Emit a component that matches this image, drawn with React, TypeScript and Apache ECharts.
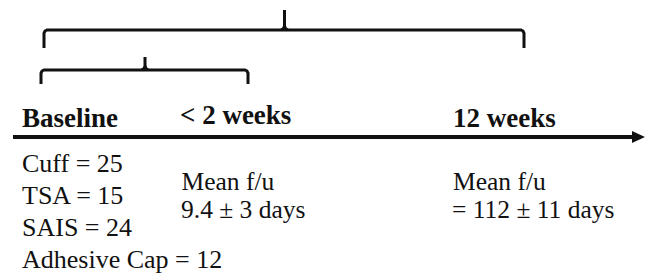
import React, { useEffect, useRef } from "react";
import * as echarts from "echarts";

// Timeline milestones (bold headers)
const milestones = ["Baseline", "< 2 weeks", "12 weeks"];
// Baseline cohort
const groupNames = ["Cuff", "TSA", "SAIS", "Adhesive Cap"];
const groupCounts = [25, 15, 24, 12];
// Follow-up (days)
const followUpMeans = [9.4, 112];
const followUpSDs = [3, 11];

const SERIF = "'Liberation Serif', 'Times New Roman', serif";
const INK = "#111";

export default function App() {
  const ref = useRef<HTMLDivElement>(null);
  useEffect(() => {
    if (!ref.current) return;
    const chart = echarts.init(ref.current, undefined, { renderer: "svg" });

    const lw = 3;
    const brace = (x1: number, x2: number, xm: number, yBar: number, yEnd: number, yTip: number) => [
      {
        type: "polyline",
        shape: {
          points: [
            [x1, yEnd], [x1, yBar + 3], [x1 + 1, yBar + 1], [x1 + 3, yBar],
            [x2 - 3, yBar], [x2 - 1, yBar + 1], [x2, yBar + 3], [x2, yEnd],
          ],
        },
        style: { stroke: INK, lineWidth: lw, fill: null },
      },
      {
        type: "polyline",
        shape: { points: [[xm - 3, yBar], [xm - 1, yBar - 1.5], [xm, yBar - 4], [xm, yTip]] },
        style: { stroke: INK, lineWidth: lw, fill: null },
      },
      {
        type: "polyline",
        shape: { points: [[xm + 3, yBar], [xm + 1, yBar - 1.5], [xm, yBar - 4]] },
        style: { stroke: INK, lineWidth: lw, fill: null },
      },
    ];

    const txt = (text: string, x: number, y: number, bold: boolean, size: number) => ({
      type: "text",
      x,
      y,
      style: {
        text,
        fill: INK,
        fontFamily: SERIF,
        fontSize: size,
        fontWeight: bold ? "bold" : "normal",
        lineHeight: size,
        align: "left",
        verticalAlign: "middle",
      },
    });

    const H = 27;
    const B = 26;
    const F = 25.5;
    const header = [
      txt(milestones[0], 22, 117.9, true, H),
      txt(milestones[1], 180, 114.9, true, H),
      txt(milestones[2], 453, 117.9, true, H),
    ];
    const body = groupNames.map((n, i) => txt(`${n} = ${groupCounts[i]}`, 22, 163.2 + i * 32, false, B));
    const mid = [
      txt("Mean f/u", 181.5, 181.4, false, F),
      txt(`${followUpMeans[0]} ± ${followUpSDs[0]} days`, 181, 209.9, false, F),
    ];
    const right = [
      txt("Mean f/u", 453, 181.4, false, F),
      txt(`= ${followUpMeans[1]} ± ${followUpSDs[1]} days`, 452, 209.9, false, F),
    ];

    chart.setOption({
      animation: false,
      backgroundColor: "#fff",
      graphic: [
        ...brace(44, 524, 284.5, 30, 48, 10),
        ...brace(41, 248, 145, 70, 84, 57),
        {
          type: "line",
          shape: { x1: 13, y1: 137, x2: 636, y2: 137 },
          style: { stroke: INK, lineWidth: 4 },
        },
        {
          type: "polygon",
          shape: { points: [[632, 131], [645, 137], [632, 143]] },
          style: { fill: INK },
        },
        ...header,
        ...body,
        ...mid,
        ...right,
      ],
    });
    return () => chart.dispose();
  }, []);
  return (
    <div
      ref={ref}
      style={{ position: "fixed", left: 0, top: 0, width: 652, height: 277, background: "#fff" }}
    />
  );
}
